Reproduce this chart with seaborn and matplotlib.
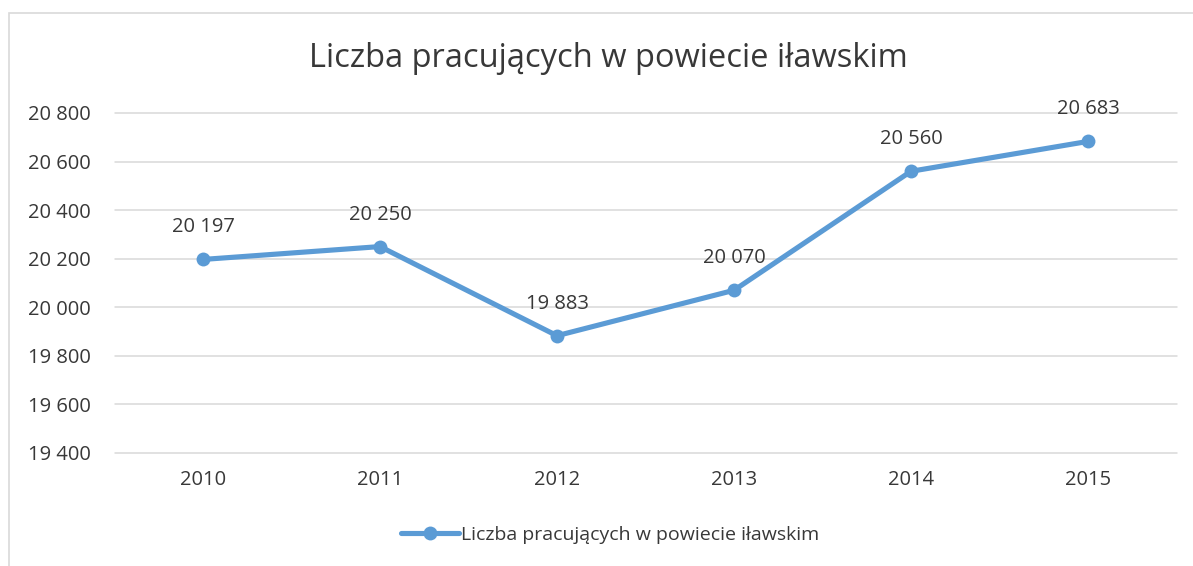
import pandas as pd
import matplotlib.pyplot as plt
import seaborn as sns
from matplotlib.patches import Rectangle

# dane z wykresu
lata = ["2010", "2011", "2012", "2013", "2014", "2015"]
pracujacy = [20197, 20250, 19883, 20070, 20560, 20683]
y_ticks = [19400, 19600, 19800, 20000, 20200, 20400, 20600, 20800]
nazwa = "Liczba pracujących w powiecie iławskim"

df = pd.DataFrame({"rok": lata, "wartosc": pracujacy})

sns.set_theme(style="white")
plt.rcParams["font.family"] = ["Open Sans", "DejaVu Sans"]
tekst = "#383838"
niebieski = "#5B9BD5"

fig = plt.figure(figsize=(11.93, 5.66), dpi=100)
ax = fig.add_axes([114.5 / 1193, 1 - 453 / 566, 1062 / 1193, 340 / 566])

# ramka wykresu
fig.patches.append(Rectangle((8.5 / 1193, -0.1), 1.2, 1 - 13.5 / 566 + 0.1,
                             transform=fig.transFigure, fill=False,
                             edgecolor="#D9D9D9", linewidth=1.2))

for t in y_ticks:
    ax.axhline(t, color="#D9D9D9", linewidth=1.1, zorder=0, clip_on=False)

sns.lineplot(data=df, x="rok", y="wartosc", ax=ax, color=niebieski,
             linewidth=3.7, marker="o", markersize=10, markeredgewidth=0,
             label=nazwa, sort=False)

for i, v in enumerate(pracujacy):
    ax.annotate(f"{v:,}".replace(",", " "), (i, v), xytext=(0, 23),
                textcoords="offset points", ha="center", va="center",
                fontsize=14.5, color=tekst)

ax.set_xlim(-0.5, len(lata) - 0.5)
ax.set_ylim(19400, 20800)
ax.set_yticks(y_ticks)
ax.set_yticklabels([f"{t:,}".replace(",", " ") for t in y_ticks])
ax.tick_params(axis="both", length=0, labelsize=14.5, labelcolor=tekst)
ax.tick_params(axis="y", pad=17)
ax.tick_params(axis="x", pad=12)
ax.set_xlabel("")
ax.set_ylabel("")
for s in ax.spines.values():
    s.set_visible(False)

fig.text(608 / 1193, 1 - 58 / 566, nazwa, ha="center", va="center",
         fontsize=23.5, color=tekst)

leg = ax.legend(loc="center", bbox_to_anchor=(610 / 1193, 1 - 535 / 566),
                bbox_transform=fig.transFigure, frameon=False, fontsize=14,
                handlelength=3.0, handletextpad=0.1)
for t in leg.get_texts():
    t.set_color(tekst)

fig.savefig("out.png", dpi=100, facecolor="white")
